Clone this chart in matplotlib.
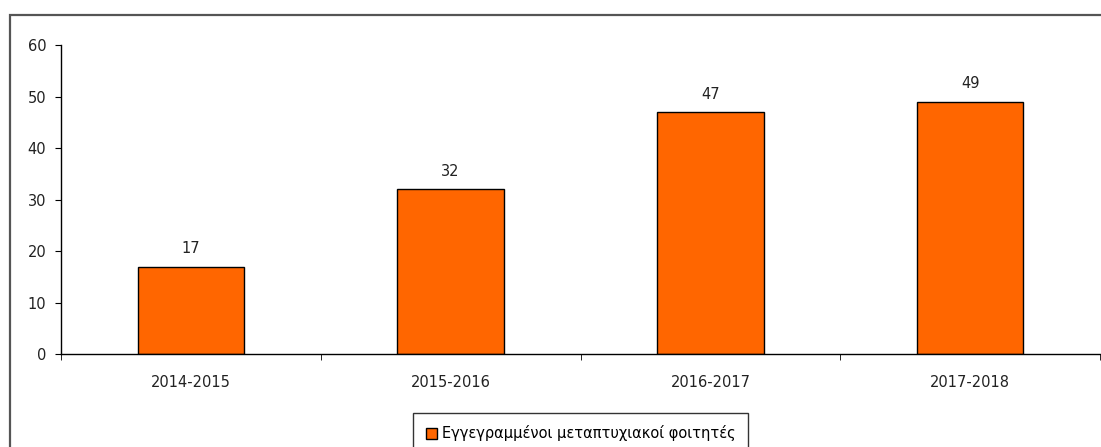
import numpy as np
import matplotlib.pyplot as plt
from matplotlib.patches import Rectangle

# Δεδομένα
akadimaika_eti = ["2014-2015", "2015-2016", "2016-2017", "2017-2018"]
foitites = [17, 32, 47, 49]
onoma_seiras = "Εγγεγραμμένοι μεταπτυχιακοί φοιτητές"

fs = 10.5

fig = plt.figure(figsize=(11.01, 4.47), dpi=100)
fig.patch.set_facecolor("white")

# εξωτερικό πλαίσιο
fig.patches.append(Rectangle((0.0091, -0.05), 1.1, 0.966 + 0.05,
                             transform=fig.transFigure, fill=False,
                             edgecolor="#555555", linewidth=1.6))

ax = fig.add_axes([0.0554, 0.208, 0.9437, 0.691])
x = np.arange(len(akadimaika_eti))
bars = ax.bar(x, foitites, width=0.41, color="#ff6600", edgecolor="black",
              linewidth=1, label=onoma_seiras)

for xi, v in zip(x, foitites):
    ax.text(xi, v + 2.0, str(v), ha="center", va="bottom", fontsize=fs,
            color="#222222")

ax.set_xlim(-0.5, len(akadimaika_eti) - 0.5)
ax.set_ylim(0, 60)
ax.set_yticks(range(0, 61, 10))
ax.set_xticks(x)
ax.set_xticklabels(akadimaika_eti)
ax.set_xticks(np.arange(-0.5, len(akadimaika_eti)), minor=True)
ax.tick_params(axis="x", which="major", length=0, pad=15, labelsize=fs,
               labelcolor="#222222")
ax.tick_params(axis="x", which="minor", length=4.5, direction="out")
ax.tick_params(axis="y", length=4.5, pad=6, labelsize=fs, labelcolor="#222222")

for s in ["top", "right"]:
    ax.spines[s].set_visible(False)
ax.spines["left"].set_linewidth(1)
ax.spines["bottom"].set_linewidth(1)

leg = ax.legend(loc="upper center", bbox_to_anchor=(0.5, -0.191), ncol=1,
                fontsize=10.5, frameon=True, fancybox=False, handlelength=0.75,
                handleheight=0.75, handletextpad=0.35, borderpad=0.85,
                borderaxespad=0)
leg.get_frame().set_edgecolor("black")
leg.get_frame().set_linewidth(1)

fig.savefig("out.png", dpi=100)
